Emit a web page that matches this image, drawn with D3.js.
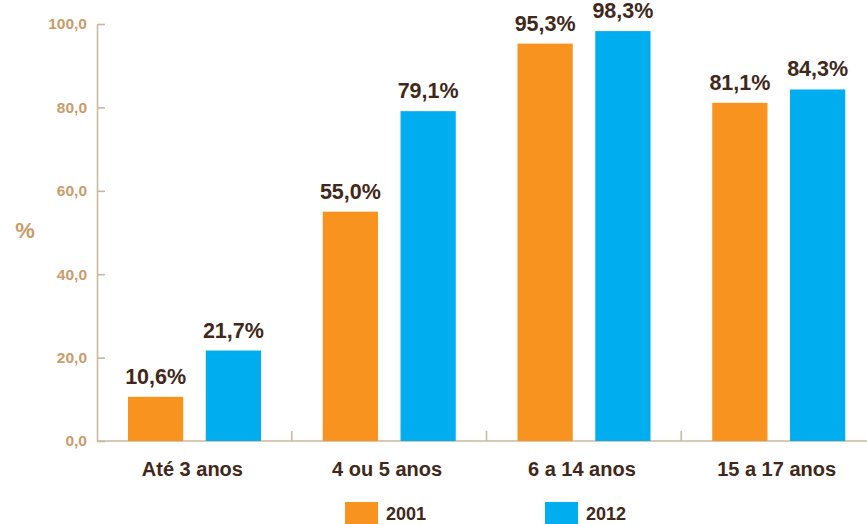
<!DOCTYPE html>
<html>
<head>
<meta charset="utf-8">
<script src="https://cdn.jsdelivr.net/npm/d3@7"></script>
<style>
  body { margin: 0; background: #fff; }
  text { font-family: "Liberation Sans", Arial, sans-serif; font-weight: bold; }
</style>
</head>
<body>
<svg id="chart" width="867" height="524"></svg>
<script>
var categories = ["Até 3 anos", "4 ou 5 anos", "6 a 14 anos", "15 a 17 anos"];
var series = ["2001", "2012"];
var values2001 = [10.6, 55.0, 95.3, 81.1];
var values2012 = [21.7, 79.1, 98.3, 84.3];
var yTicks = [0, 20, 40, 60, 80, 100];
var colors = ["#f7931e", "#00aeef"];

var data = categories.map(function(c, i) {
  return { cat: c, vals: [
    { s: series[0], v: values2001[i] },
    { s: series[1], v: values2012[i] }
  ]};
});

var svg = d3.select("#chart");
var axisColor = "#c9b99f";
var tickText = "#c99c6a";
var darkText = "#40281a";

var x0 = d3.scaleBand().domain(categories).range([97, 876]);
var x1 = d3.scaleBand().domain(series).range([31, 164]).paddingInner(0.29);
var y = d3.scaleLinear().domain([0, 100]).range([441, 24]);

var fmt = function(v) { return d3.format(".1f")(v).replace(".", ","); };

// y axis
var yAxis = d3.axisLeft(y).tickValues(yTicks).tickSize(-8).tickSizeOuter(0)
  .tickPadding(10).tickFormat(fmt);
var gy = svg.append("g").attr("transform", "translate(97,0)").call(yAxis);
gy.select(".domain").attr("stroke", axisColor).attr("stroke-width", 1.6);
gy.selectAll(".tick line").attr("stroke", axisColor).attr("stroke-width", 1.6);
gy.selectAll(".tick text").attr("fill", tickText)
  .style("font-size", "15.5px").style("font-family", "Liberation Sans, Arial, sans-serif")
  .style("font-weight", "bold");

svg.append("text").attr("x", 25).attr("y", 238).attr("text-anchor", "middle")
  .attr("fill", tickText).style("font-size", "22px").text("%");

// x axis baseline
svg.append("line").attr("x1", 97).attr("x2", 867).attr("y1", y(0)).attr("y2", y(0))
  .attr("stroke", axisColor).attr("stroke-width", 1.6);

// category separators
svg.selectAll(".sep").data(categories.slice(1)).enter().append("line")
  .attr("class", "sep")
  .attr("x1", function(d) { return x0(d); }).attr("x2", function(d) { return x0(d); })
  .attr("y1", y(0) - 10).attr("y2", y(0))
  .attr("stroke", axisColor).attr("stroke-width", 1.6);

// category labels
svg.selectAll(".cat").data(categories).enter().append("text")
  .attr("class", "cat")
  .attr("x", function(d) { return x0(d) + x0.bandwidth() / 2 - 2; })
  .attr("y", 476).attr("text-anchor", "middle")
  .attr("fill", darkText).style("font-size", "20px").text(function(d) { return d; });

// bars
var groups = svg.selectAll(".grp").data(data).enter().append("g")
  .attr("class", "grp")
  .attr("transform", function(d) { return "translate(" + x0(d.cat) + ",0)"; });

groups.selectAll("rect").data(function(d) { return d.vals; }).enter().append("rect")
  .attr("x", function(d) { return x1(d.s); })
  .attr("width", x1.bandwidth())
  .attr("y", function(d) { return y(d.v); })
  .attr("height", function(d) { return y(0) - y(d.v); })
  .attr("fill", function(d, i) { return colors[i]; });

groups.selectAll(".val").data(function(d) { return d.vals; }).enter().append("text")
  .attr("class", "val")
  .attr("x", function(d) { return x1(d.s) + x1.bandwidth() / 2; })
  .attr("y", function(d) { return y(d.v) - 13; })
  .attr("text-anchor", "middle").attr("fill", darkText)
  .style("font-size", "21.5px")
  .text(function(d) { return fmt(d.v) + "%"; });

// legend
var legX = [345, 545];
var leg = svg.selectAll(".leg").data(series).enter().append("g")
  .attr("class", "leg")
  .attr("transform", function(d, i) { return "translate(" + legX[i] + ",502)"; });
leg.append("rect").attr("width", 33).attr("height", 22)
  .attr("fill", function(d, i) { return colors[i]; });
leg.append("text").attr("x", 41).attr("y", 17.5).attr("fill", darkText)
  .style("font-size", "18px").text(function(d) { return d; });
</script>
</body>
</html>
